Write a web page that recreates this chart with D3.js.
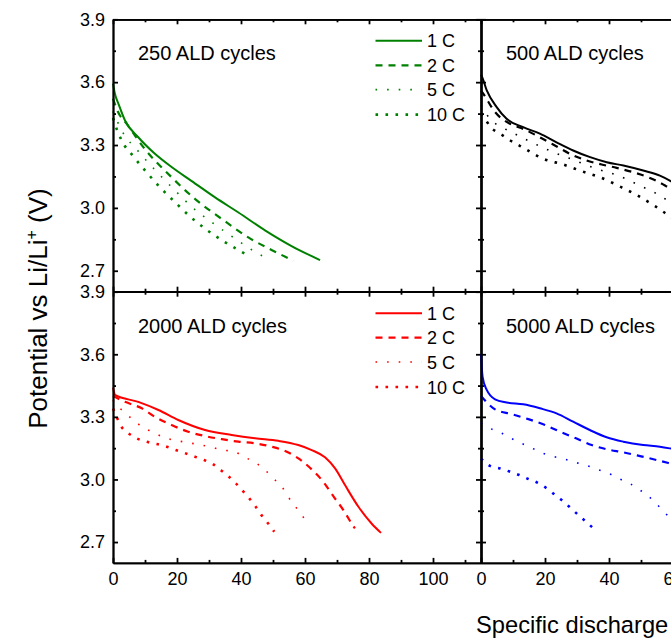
<!DOCTYPE html>
<html><head><meta charset="utf-8">
<script src="https://cdn.jsdelivr.net/npm/d3@7"></script>
<style>body{margin:0;background:#fff}svg{display:block;font-family:"Liberation Sans",Arial,sans-serif}</style>
</head><body><svg id="c" width="671" height="638"></svg>
<script>
// ---- data: [specific capacity, potential] ----
const rates = ["1 C", "2 C", "5 C", "10 C"];
const panelTitles = ["250 ALD cycles", "500 ALD cycles", "2000 ALD cycles", "5000 ALD cycles"];
const panelColors = ["#008000", "#000000", "#ff0000", "#0000ff"];
const yTickValues = [2.7, 3.0, 3.3, 3.6, 3.9];
const yMinorValues = [2.85, 3.15, 3.45, 3.75];
const xTickValues = [0, 20, 40, 60, 80, 100];
const xMinorValues = [10, 30, 50, 70, 90, 110];
const xLabel = "Specific discharge capacity (mAh/g)";

const ald250_1C = [[0,3.593],[0.6,3.545],[1.7,3.497],[3.75,3.417],[7.9,3.337],[13.1,3.258],[18.3,3.195],[24.6,3.128],[31.9,3.05],[39.2,2.978],[47.5,2.893],[55.8,2.818],[64.7,2.751]];
const ald250_2C = [[0,3.521],[1.5,3.46],[4.3,3.401],[10,3.28],[17.8,3.154],[25.6,3.043],[34,2.947],[42.3,2.859],[51.7,2.783],[56.3,2.748]];
const ald250_5C = [[0,3.46],[2.7,3.37],[7.9,3.27],[12.6,3.19],[18.3,3.10],[25,3.0],[31.9,2.92],[38,2.855],[45.2,2.783],[48.3,2.759]];
const ald250_10C = [[0,3.43],[0.4,3.41],[2.7,3.322],[6.4,3.245],[10.5,3.17],[14.7,3.098],[19.4,3.027],[24,2.96],[29.3,2.895],[34.2,2.844],[39.5,2.796],[42.3,2.772]];

const ald500_1C = [[0,3.635],[0.2,3.63],[1.8,3.561],[4.9,3.481],[8,3.425],[13.2,3.385],[18.4,3.354],[23.6,3.313],[28.8,3.274],[34.1,3.242],[39.3,3.218],[44.5,3.202],[50.7,3.178],[55.9,3.154],[59,3.13],[62,3.10]];
const ald500_2C = [[0,3.56],[0.7,3.545],[4.4,3.457],[9.1,3.401],[13.2,3.377],[18.4,3.337],[23.1,3.298],[27.8,3.258],[33,3.226],[37.7,3.207],[42.4,3.191],[47.6,3.17],[52.8,3.143],[57.5,3.107],[61,3.07]];
const ald500_5C = [[0,3.49],[0.7,3.473],[2.8,3.425],[6.5,3.385],[9.6,3.361],[15.8,3.313],[22.6,3.266],[29.4,3.226],[36.2,3.186],[42.9,3.154],[49.7,3.106],[55.9,3.059],[59,3.027],[62,2.99]];
const ald500_10C = [[0,3.45],[1.25,3.425],[3,3.385],[5.7,3.357],[8.3,3.33],[13.8,3.282],[19.5,3.234],[25.7,3.207],[31.5,3.175],[37.7,3.143],[43.4,3.102],[48.9,3.059],[54.4,3.008],[57.2,2.979],[60,2.95]];

const ald2000_1C = [[0,3.44],[0.3,3.42],[0.6,3.405],[7.9,3.372],[14.2,3.333],[20.4,3.285],[28.75,3.237],[37.1,3.213],[44.4,3.197],[51.7,3.185],[57.9,3.165],[62.1,3.141],[66.25,3.106],[69.4,3.053],[72.5,2.973],[76.7,2.869],[80.8,2.789],[83.75,2.744]];
const ald2000_2C = [[0,3.40],[3.75,3.372],[9,3.341],[13.1,3.3],[18.3,3.261],[23.5,3.229],[28.75,3.208],[34,3.193],[39.2,3.181],[44.4,3.173],[49.6,3.157],[54.3,3.133],[58.4,3.096],[62.1,3.048],[65.7,2.989],[68.85,2.92],[72,2.853],[75.1,2.776],[75.6,2.765]];
const ald2000_5C = [[0,3.38],[0.6,3.365],[3.5,3.324],[6.9,3.277],[10,3.245],[13.1,3.221],[16.8,3.197],[20.4,3.185],[23.5,3.176],[27.7,3.165],[30.8,3.154],[34.5,3.141],[37.9,3.133],[41.25,3.106],[44.6,3.08],[47.3,3.048],[50.1,3.005],[52.8,2.965],[54.6,2.92],[56.9,2.872],[59,2.829],[61,2.786]];
const ald2000_10C = [[0,3.34],[1.15,3.30],[2.5,3.256],[4.6,3.224],[7.4,3.197],[10.5,3.181],[13.65,3.17],[16.8,3.157],[19.6,3.141],[22.7,3.125],[25.6,3.109],[28.5,3.093],[31.35,3.072],[34,3.041],[36.25,3.013],[38.4,2.981],[40.5,2.946],[42.6,2.909],[44.6,2.869],[46.4,2.829],[48.5,2.789],[50.4,2.749]];

const ald5000_1C = [[0,3.60],[0.5,3.492],[1.8,3.429],[4.4,3.384],[8,3.369],[13.2,3.36],[18.4,3.341],[23.6,3.317],[28.8,3.277],[34,3.237],[39.25,3.202],[44.5,3.181],[50.7,3.165],[55.9,3.157],[59,3.149],[62,3.14]];
const ald5000_2C = [[0,3.40],[4.4,3.336],[9.6,3.313],[14.8,3.289],[20,3.261],[24.7,3.229],[29.7,3.197],[34.6,3.165],[39.5,3.144],[44.5,3.13],[49.7,3.112],[54.9,3.093],[59,3.077],[62,3.065]];
const ald5000_5C = [[0,3.27],[2.8,3.245],[6.1,3.224],[9.4,3.197],[12.7,3.173],[16.1,3.149],[19.5,3.125],[22.9,3.109],[26.5,3.096],[29.9,3.08],[33.5,3.064],[36.9,3.045],[40.3,3.026],[43.4,3.002],[46.8,2.978],[49.7,2.949],[52.5,2.917],[54.9,2.882],[57.7,2.837],[60,2.80]];
const ald5000_10C = [[0,3.10],[2.8,3.065],[5.9,3.053],[9.1,3.037],[12,3.021],[14.8,3.002],[17.7,2.984],[20.3,2.96],[22.8,2.93],[25.2,2.901],[27.6,2.869],[30.1,2.834],[32.5,2.802],[34.8,2.77]];

const panelSeries = [
  [ald250_1C, ald250_2C, ald250_5C, ald250_10C],
  [ald500_1C, ald500_2C, ald500_5C, ald500_10C],
  [ald2000_1C, ald2000_2C, ald2000_5C, ald2000_10C],
  [ald5000_1C, ald5000_2C, ald5000_5C, ald5000_10C]
];

// ---- layout / styles ----
const svg = d3.select("#c");
svg.append("rect").attr("width",671).attr("height",638).attr("fill","#fff");
const colX = [113, 481], colW = 368;
const rowY = [[19.3, 291.7], [291.7, 562.9]];
const rateStyle = [
  {w:2.0, dash:null, cap:"butt"},
  {w:2.2, dash:"7,6", cap:"butt"},
  {w:1.6, dash:"1.6,10", cap:"butt"},
  {w:2.6, dash:"2.6,7.4", cap:"butt"}
];
const axisW = 1.8;

panelSeries.forEach((series, i) => {
  const col = i % 2, row = Math.floor(i / 2);
  const x0 = colX[col], yt = rowY[row][0], yb = rowY[row][1];
  const x = d3.scaleLinear().domain([0,115]).range([x0, x0 + colW]);
  const y = d3.scaleLinear().domain([2.6,3.9]).range([yb, yt]);
  const g = svg.append("g");
  const color = panelColors[i];

  const line = d3.line().x(d => x(d[0])).y(d => y(d[1])).curve(d3.curveMonotoneX);
  series.forEach((s, k) => {
    const st = rateStyle[k];
    g.append("path").attr("d", line(s)).attr("fill","none").attr("stroke", color)
      .attr("stroke-width", st.w).attr("stroke-dasharray", st.dash).attr("stroke-linecap", st.cap);
  });

  // axes (inward ticks on all four sides)
  const mk = (axis, scale, vals, size, fmt) => axis(scale).tickValues(vals).tickSizeInner(-size).tickSizeOuter(0).tickFormat(fmt);
  const none = () => "";
  const addAxis = (a, tr) => {
    const ag = g.append("g").attr("transform", tr).call(a);
    ag.selectAll("path,line").attr("stroke","#000").attr("stroke-width", axisW);
    ag.selectAll("text").attr("fill","#000").style("font-size","18px").style("font-family","'Liberation Sans',Arial,sans-serif");
    return ag;
  };
  addAxis(mk(d3.axisLeft, y, yTickValues, 5, col === 0 ? d3.format(".1f") : none).tickPadding(8), `translate(${x0},0)`);
  addAxis(mk(d3.axisLeft, y, yMinorValues, 3, none), `translate(${x0},0)`);
  addAxis(mk(d3.axisRight, y, yTickValues, 5, none), `translate(${x0+colW},0)`);
  addAxis(mk(d3.axisRight, y, yMinorValues, 3, none), `translate(${x0+colW},0)`);
  addAxis(mk(d3.axisBottom, x, xTickValues, 5, row === 1 ? d3.format("d") : none).tickPadding(9), `translate(0,${yb})`);
  addAxis(mk(d3.axisBottom, x, xMinorValues, 3, none), `translate(0,${yb})`);
  addAxis(mk(d3.axisTop, x, xTickValues, 5, none), `translate(0,${yt})`);
  addAxis(mk(d3.axisTop, x, xMinorValues, 3, none), `translate(0,${yt})`);

  // title
  g.append("text").attr("x", x0 + 25).attr("y", yt + 41).text(panelTitles[i])
    .style("font-size","20px").attr("fill","#000");

  // legend in left column panels
  if (col === 0) {
    const ly = [21.5, 46, 70.3, 95.3];
    rates.forEach((r, k) => {
      const st = rateStyle[k];
      g.append("line").attr("x1", x0 + 262.5).attr("x2", x0 + 309).attr("y1", yt + ly[k]).attr("y2", yt + ly[k])
        .attr("stroke", color).attr("stroke-width", st.w).attr("stroke-dasharray", st.dash);
      g.append("text").attr("x", x0 + 314).attr("y", yt + ly[k] + 6.5).text(r)
        .style("font-size","18px").attr("fill","#000");
    });
  }
});

// axis titles
const yl = svg.append("text").attr("transform","translate(47,308.5) rotate(-90)").attr("text-anchor","middle")
  .style("font-size","26px").attr("fill","#000");
yl.append("tspan").text("Potential vs Li/Li");
yl.append("tspan").attr("dy",-10).style("font-size","16px").text("+");
yl.append("tspan").attr("dy",10).text(" (V)");

svg.append("text").attr("x", 476).attr("y", 633).text(xLabel).style("font-size","23.7px").attr("fill","#000");
</script></body></html>
